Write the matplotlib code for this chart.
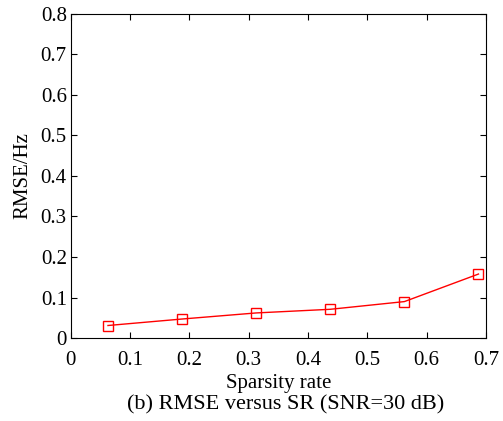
import matplotlib
matplotlib.use('Agg')
import matplotlib.pyplot as plt

# data
sparsity = [0.0625, 0.1875, 0.3125, 0.4375, 0.5625, 0.6875]
rmse = [0.031, 0.047, 0.062, 0.071, 0.090, 0.158]
xticks = [0, 0.1, 0.2, 0.3, 0.4, 0.5, 0.6, 0.7]
yticks = [0, 0.1, 0.2, 0.3, 0.4, 0.5, 0.6, 0.7, 0.8]

plt.rcParams['font.family'] = ['Liberation Serif', 'DejaVu Serif']
plt.rcParams['font.size'] = 15

fig = plt.figure(figsize=(5.03, 4.21), dpi=100)
ax = fig.add_axes([0.141, 0.197, 0.825, 0.770])

ax.plot(sparsity, rmse, color='red', linewidth=1.0, marker='s', markersize=6.5,
        markerfacecolor='none', markeredgecolor='red', markeredgewidth=1.0)

ax.set_xlim(0, 0.7)
ax.set_ylim(0, 0.8)
ax.set_xticks(xticks)
ax.set_yticks(yticks)
ax.set_xticklabels([f'{v:g}' for v in xticks])
ax.set_yticklabels([f'{v:g}' for v in yticks])
ax.tick_params(direction='in', top=True, right=True, length=4.5, width=0.8)
ax.tick_params(axis='x', pad=9)
ax.tick_params(axis='y', pad=3)
for s in ax.spines.values():
    s.set_linewidth(0.8)

ax.set_xlabel('Sparsity rate', labelpad=3)
ax.set_ylabel('RMSE/Hz', labelpad=6)
fig.text(0.567, 0.038, '(b) RMSE versus SR (SNR=30 dB)', ha='center', va='center', fontsize=16)

fig.savefig('out.png', dpi=100)
